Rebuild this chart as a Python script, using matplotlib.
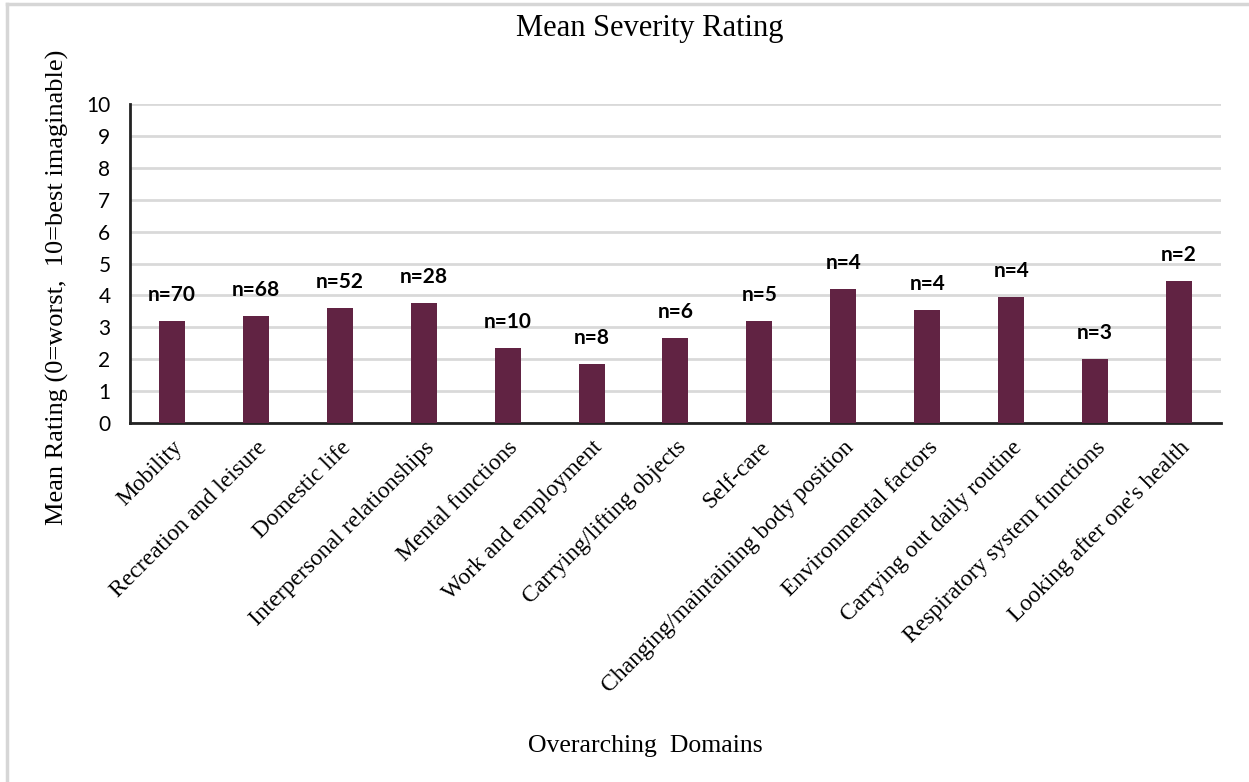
import numpy as np
import matplotlib.pyplot as plt
from matplotlib.lines import Line2D

# Domains, mean ratings and sample sizes
domains = ['Mobility', 'Recreation and leisure', 'Domestic life',
           'Interpersonal relationships', 'Mental functions',
           'Work and employment', 'Carrying/lifting objects', 'Self-care',
           'Changing/maintaining body position', 'Environmental factors',
           'Carrying out daily routine', 'Respiratory system functions',
           "Looking after one's health"]
mean_rating = [3.2, 3.35, 3.6, 3.77, 2.36, 1.84, 2.68, 3.2, 4.2, 3.53, 3.94, 2.01, 4.44]
n_counts = [70, 68, 52, 28, 10, 8, 6, 5, 4, 4, 4, 3, 2]

serif = 'Liberation Serif'
sans = 'Lato'

fig = plt.figure(figsize=(12.49, 7.82), dpi=100)
ax = fig.add_axes([0.104, 0.459, 0.8736, 0.408])

x = np.arange(len(domains))
bars = ax.bar(x, mean_rating, width=0.31, color='#612343', zorder=3)

# n= labels above each bar
for xi, v, n in zip(x, mean_rating, n_counts):
    ax.text(xi, v + 0.5, 'n=%d' % n, ha='center', va='bottom',
            fontsize=15, fontweight='bold', family=sans)

ax.set_xlim(-0.5, len(domains) - 0.5)
ax.set_ylim(0, 10)
ax.set_yticks(range(0, 11))
ax.set_yticklabels([str(i) for i in range(0, 11)], family=sans, fontsize=15)
ax.yaxis.grid(True, color='#d9d9d9', linewidth=2, zorder=0)
ax.tick_params(axis='y', length=0, pad=14)
ax.tick_params(axis='x', length=0, pad=10)

ax.set_xticks(x)
ax.set_xticklabels(domains, rotation=45, ha='right', rotation_mode='anchor',
                   family=serif, fontsize=17)

for side in ['top', 'right']:
    ax.spines[side].set_visible(False)
for side in ['left', 'bottom']:
    ax.spines[side].set_linewidth(2)
    ax.spines[side].set_color('#222222')

fig.text(0.52, 0.963, 'Mean Severity Rating', ha='center', va='center',
         family=serif, fontsize=22)
fig.text(0.517, 0.046, 'Overarching  Domains', ha='center', va='center',
         family=serif, fontsize=18.5)
fig.text(0.046, 0.632, 'Mean Rating (0=worst,  10=best imaginable)',
         rotation=90, ha='center', va='center', family=serif, fontsize=19)

# thin grey frame on the top and left edges
fig.add_artist(Line2D([0.0055, 0.0055], [0, 0.995], transform=fig.transFigure,
                      color='#d6d6d6', linewidth=2.5))
fig.add_artist(Line2D([0.0055, 1], [0.995, 0.995], transform=fig.transFigure,
                      color='#d6d6d6', linewidth=2.5))

fig.savefig('out.png', dpi=100)
